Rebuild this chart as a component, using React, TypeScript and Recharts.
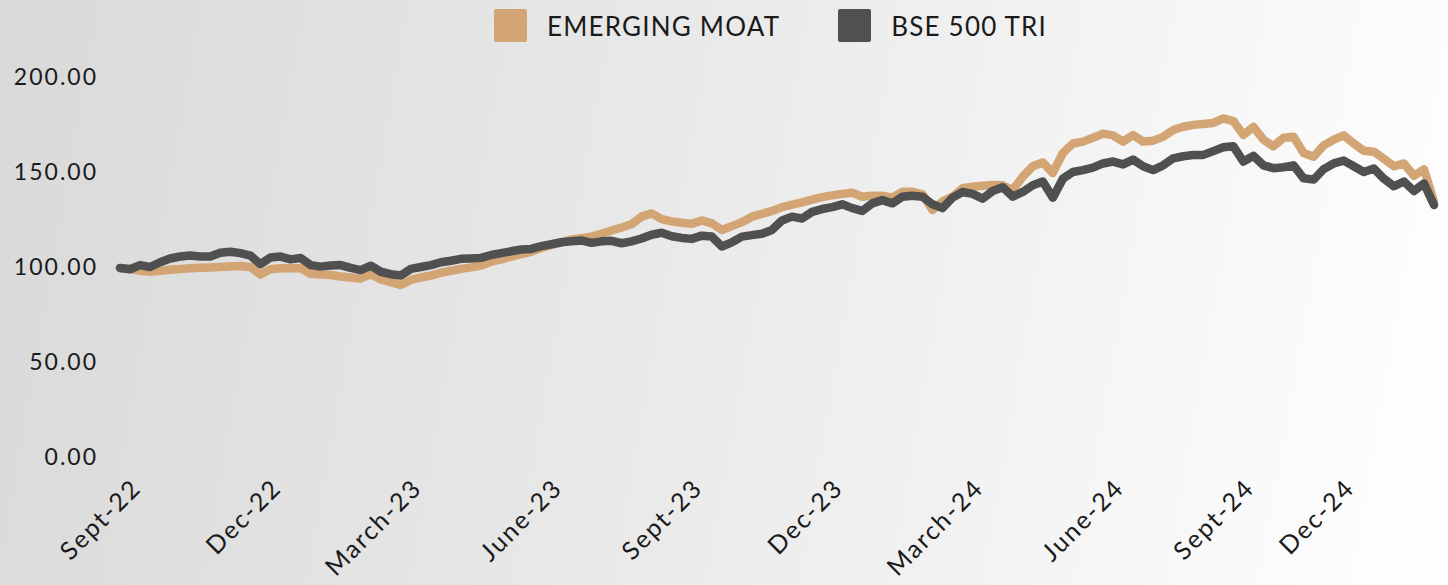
import { LineChart, Line, XAxis, YAxis, Legend } from 'recharts';

// weekly closes, rebased to 100
const emergingMoat = [
  99.5, 99, 98, 97.5, 98, 98.5, 99, 99.3, 99.6, 99.8,
  100, 100.3, 100.5, 100, 96, 98.8, 99.3, 99.3, 99.3, 96.5,
  96, 95.8, 95, 94.5, 94, 96.2, 93.5, 92, 90.5, 93.2,
  94.5, 95.5, 97, 98, 99, 99.8, 100.8, 102.8, 104, 105.5,
  106.8, 108, 110, 111.5, 113, 114.5, 115.2, 116, 117.5, 119.2,
  120.8, 122.5, 126.5, 128.2, 125.2, 124, 123.3, 122.7, 124.5, 123,
  119.5, 121.5, 123.6, 126.5, 128, 129.5, 131.5, 132.8, 134, 135.5,
  136.8, 137.7, 138.5, 139.1, 137, 137.5, 137.5, 136.5, 139.6, 139.6,
  138.2, 130, 134.5, 137, 141.5, 142.2, 142.8, 143.2, 143, 140.5,
  147.5, 153, 155, 149.5, 160, 165, 166, 168, 170.2, 169.3,
  166, 169.5, 166, 166.5, 168.5, 172.1, 173.8, 174.8, 175.3, 175.8,
  178.2, 176.8, 169.5, 173.8, 167, 163.5, 168, 168.5, 160, 158,
  164, 167, 169.3, 165, 161.2, 160.7, 157, 153, 154.5, 148,
  151.4, 134.4,
];

const bse500Tri = [
  99.5, 98.8, 101, 100, 102.5, 104.5, 105.5, 106, 105.5, 105.5,
  107.5, 108, 107.3, 106, 101.5, 105, 105.5, 104, 104.7, 101,
  100.2, 100.8, 101, 99.5, 98.4, 100.7, 97.5, 96.2, 95.5, 99,
  100, 101, 102.5, 103.3, 104.3, 104.5, 104.8, 106.3, 107.3, 108.3,
  109.2, 109.5, 111, 112, 113, 113.5, 114, 112.7, 113.5, 113.8,
  112.5, 113.5, 115, 117, 118, 116.2, 115.3, 114.8, 116.5, 116,
  110.8, 113, 116, 116.8, 117.5, 119.5, 124.5, 126.5, 125.5, 129,
  130.5, 131.5, 133, 131, 129.5, 133.5, 135.2, 133.5, 137, 137.5,
  137, 133, 131, 136.5, 139.5, 138.5, 136, 140, 142, 137,
  139.5, 143, 145, 136.5, 146.5, 150, 151, 152.3, 154.5, 155.5,
  154, 156.5, 153, 151, 153.5, 157.2, 158.3, 158.9, 159, 161,
  163, 163.5, 155.5, 158.5, 153.5, 152, 152.5, 153.5, 146.7, 146,
  151.5, 154.5, 156, 153, 150, 151.8, 146.5, 142.5, 145, 140,
  144, 132.6,
];

const tickIndex = [1, 15, 29, 43, 57, 71, 85, 99, 112, 122];
const tickLabels = ['Sept-22', 'Dec-22', 'March-23', 'June-23', 'Sept-23', 'Dec-23', 'March-24', 'June-24', 'Sept-24', 'Dec-24'];
const yTicks = [0, 50, 100, 150, 200];

const ORANGE = '#D4A574';
const GRAY = '#505050';
const FONT = 'Lato, "Open Sans", sans-serif';

const data = emergingMoat.map((v, i) => ({ idx: i, em: v, bse: bse500Tri[i] }));

function LegendBox() {
  const items = [
    { label: 'EMERGING MOAT', color: ORANGE },
    { label: 'BSE 500 TRI', color: GRAY },
  ];
  return (
    <div style={{ display: 'flex', alignItems: 'center', fontFamily: FONT }}>
      {items.map((it, i) => (
        <div key={it.label} style={{ display: 'flex', alignItems: 'center', marginRight: i === 0 ? 58 : 0 }}>
          <div style={{ width: 33, height: 33, background: it.color, borderRadius: 2, marginRight: 20 }} />
          <span style={{ fontSize: 26, color: '#1a1a1a', letterSpacing: 1.2 }}>{it.label}</span>
        </div>
      ))}
    </div>
  );
}

export default function App() {
  return (
    <div
      style={{
        width: 1448,
        height: 585,
        background: 'linear-gradient(100deg, #d9d9d9 0%, #e9e9e9 45%, #ffffff 100%)',
      }}
    >
      <style>{'body{margin:0}'}</style>
      <LineChart width={1448} height={585} data={data} margin={{ top: 77, right: 14, bottom: 18, left: 20 }}>
        <XAxis
          dataKey="idx"
          type="number"
          domain={[0, emergingMoat.length - 1]}
          ticks={tickIndex}
          tickFormatter={(v: number) => tickLabels[tickIndex.indexOf(v)] ?? ''}
          interval={0}
          axisLine={false}
          tickLine={false}
          tickMargin={14}
          height={110}
          tick={{ fill: '#1a1a1a', fontSize: 25, fontFamily: FONT, angle: -45, textAnchor: 'end', letterSpacing: 2 } as any}
        />
        <YAxis
          domain={[0, 200]}
          ticks={yTicks}
          axisLine={false}
          tickLine={false}
          tickSize={0}
          tickMargin={22}
          width={100}
          tickFormatter={(v: number) => v.toFixed(2)}
          tick={{ fill: '#1a1a1a', fontSize: 23, fontFamily: FONT, letterSpacing: 2 } as any}
        />
        <Legend
          layout="horizontal"
          verticalAlign="middle"
          wrapperStyle={{ top: 9, left: 494, width: 700 }}
          content={() => <LegendBox />}
        />
        <Line
          dataKey="em"
          name="EMERGING MOAT"
          stroke={ORANGE}
          strokeWidth={8.5}
          strokeLinecap="round"
          strokeLinejoin="round"
          dot={false}
          activeDot={false}
          isAnimationActive={false}
        />
        <Line
          dataKey="bse"
          name="BSE 500 TRI"
          stroke={GRAY}
          strokeWidth={8.5}
          strokeLinecap="round"
          strokeLinejoin="round"
          dot={false}
          activeDot={false}
          isAnimationActive={false}
        />
      </LineChart>
    </div>
  );
}
